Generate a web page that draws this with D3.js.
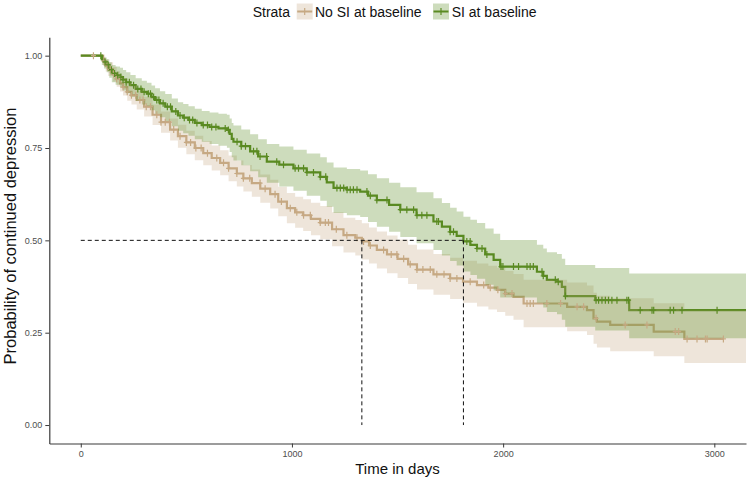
<!DOCTYPE html>
<html>
<head>
<meta charset="utf-8">
<script src="https://cdn.jsdelivr.net/npm/d3@7"></script>
<style>
  html, body { margin: 0; padding: 0; background: #fff; }
  svg { display: block; font-family: "Liberation Sans", Arial, Helvetica, sans-serif; }
</style>
</head>
<body>
<svg id="chart" width="750" height="480"></svg>
<script>
// ---------------- DATA ----------------
const strataLabels = ["No SI at baseline", "SI at baseline"];
const xTicks = [0, 1000, 2000, 3000];
const yTicks = [0, 0.25, 0.5, 0.75, 1];
const medianTimes = [1331, 1812];

// SI at baseline (green)
const siTime  = [0, 91, 100, 110, 123, 135, 147, 165, 186, 200, 215, 235, 260, 289, 313, 335, 352, 375, 400, 431, 460, 485, 510, 540, 573, 610, 652, 692, 705, 715, 723, 760, 802, 840, 881, 940, 1007, 1070, 1134, 1165, 1197, 1260, 1323, 1360, 1402, 1460, 1513, 1590, 1670, 1710, 1749, 1780, 1812, 1845, 1876, 1915, 1955, 1986, 2160, 2190, 2207, 2255, 2278, 2294, 2436, 2597, 3150];
const siSurv  = [1, 1, 0.99, 0.983, 0.975, 0.962, 0.952, 0.947, 0.942, 0.935, 0.928, 0.92, 0.91, 0.902, 0.897, 0.888, 0.88, 0.871, 0.862, 0.849, 0.838, 0.832, 0.826, 0.818, 0.812, 0.807, 0.803, 0.799, 0.788, 0.775, 0.767, 0.755, 0.741, 0.727, 0.713, 0.705, 0.695, 0.684, 0.672, 0.657, 0.642, 0.637, 0.632, 0.621, 0.609, 0.596, 0.583, 0.568, 0.551, 0.537, 0.523, 0.512, 0.497, 0.488, 0.478, 0.462, 0.447, 0.429, 0.415, 0.404, 0.393, 0.388, 0.374, 0.349, 0.338, 0.311, 0.311];
const siUpper = [1, 1, 1, 0.995, 0.99, 0.982, 0.975, 0.971, 0.967, 0.961, 0.955, 0.948, 0.939, 0.932, 0.927, 0.919, 0.912, 0.904, 0.896, 0.884, 0.874, 0.869, 0.863, 0.856, 0.85, 0.846, 0.843, 0.84, 0.83, 0.818, 0.811, 0.8, 0.787, 0.774, 0.761, 0.754, 0.745, 0.735, 0.725, 0.711, 0.697, 0.693, 0.689, 0.679, 0.668, 0.656, 0.644, 0.63, 0.614, 0.601, 0.588, 0.578, 0.564, 0.556, 0.547, 0.532, 0.518, 0.501, 0.488, 0.478, 0.468, 0.463, 0.45, 0.433, 0.425, 0.41, 0.41];
const siLower = [1, 1, 0.975, 0.965, 0.955, 0.94, 0.928, 0.921, 0.914, 0.906, 0.898, 0.889, 0.877, 0.868, 0.862, 0.852, 0.843, 0.833, 0.823, 0.809, 0.797, 0.79, 0.783, 0.774, 0.767, 0.761, 0.756, 0.751, 0.739, 0.725, 0.716, 0.703, 0.687, 0.671, 0.656, 0.646, 0.634, 0.621, 0.607, 0.591, 0.574, 0.568, 0.563, 0.55, 0.537, 0.523, 0.509, 0.492, 0.474, 0.459, 0.444, 0.432, 0.416, 0.406, 0.396, 0.38, 0.364, 0.345, 0.331, 0.318, 0.306, 0.3, 0.285, 0.266, 0.256, 0.235, 0.235];
const siCensor = [95, 115, 130, 145, 160, 175, 190, 200, 215, 230, 250, 270, 285, 300, 320, 330, 345, 360, 370, 390, 410, 425, 450, 470, 490, 515, 530, 550, 580, 600, 620, 640, 684, 699, 740, 760, 780, 818, 834, 849, 880, 928, 960, 1015, 1031, 1055, 1071, 1102, 1134, 1160, 1213, 1229, 1245, 1261, 1276, 1291, 1308, 1355, 1371, 1402, 1450, 1513, 1544, 1576, 1592, 1615, 1639, 1686, 1694, 1749, 1765, 1828, 1844, 1876, 1900, 1923, 1990, 1999, 2049, 2073, 2113, 2128, 2143, 2184, 2190, 2247, 2261, 2295, 2440, 2452, 2468, 2484, 2499, 2515, 2539, 2586, 2594, 2649, 2705, 2713, 2791, 2807, 2847, 3013];
const siLineEnd = 3150;

// No SI at baseline (tan)
const noSiTime  = [0, 95, 106, 118, 130, 153, 170, 186, 200, 220, 240, 265, 300, 340, 380, 423, 460, 500, 540, 580, 620, 660, 700, 739, 770, 810, 850, 897, 935, 976, 1015, 1053, 1090, 1134, 1190, 1244, 1300, 1331, 1365, 1402, 1450, 1500, 1550, 1592, 1670, 1749, 1810, 1876, 1930, 1971, 2010, 2049, 2097, 2303, 2397, 2428, 2444, 2507, 2713, 2858, 3150];
const noSiSurv  = [1, 1, 0.985, 0.973, 0.963, 0.95, 0.937, 0.925, 0.915, 0.902, 0.893, 0.88, 0.862, 0.84, 0.82, 0.8, 0.782, 0.765, 0.75, 0.736, 0.723, 0.71, 0.695, 0.681, 0.668, 0.655, 0.64, 0.625, 0.605, 0.587, 0.576, 0.568, 0.558, 0.548, 0.53, 0.514, 0.507, 0.497, 0.486, 0.474, 0.462, 0.45, 0.435, 0.421, 0.408, 0.397, 0.388, 0.379, 0.372, 0.366, 0.356, 0.347, 0.329, 0.32, 0.311, 0.289, 0.28, 0.271, 0.253, 0.233, 0.233];
const noSiUpper = [1, 1, 0.997, 0.99, 0.982, 0.97, 0.958, 0.947, 0.938, 0.926, 0.918, 0.906, 0.889, 0.868, 0.849, 0.83, 0.813, 0.797, 0.783, 0.769, 0.757, 0.744, 0.73, 0.716, 0.704, 0.692, 0.678, 0.664, 0.645, 0.628, 0.618, 0.611, 0.602, 0.593, 0.576, 0.561, 0.555, 0.546, 0.535, 0.524, 0.513, 0.502, 0.488, 0.475, 0.463, 0.453, 0.445, 0.437, 0.431, 0.426, 0.417, 0.409, 0.393, 0.386, 0.378, 0.358, 0.35, 0.343, 0.33, 0.31, 0.31];
const noSiLower = [1, 1, 0.972, 0.957, 0.945, 0.93, 0.916, 0.903, 0.892, 0.878, 0.868, 0.854, 0.835, 0.812, 0.791, 0.77, 0.751, 0.733, 0.717, 0.703, 0.689, 0.676, 0.66, 0.646, 0.632, 0.618, 0.602, 0.586, 0.565, 0.546, 0.534, 0.525, 0.514, 0.503, 0.484, 0.467, 0.459, 0.448, 0.437, 0.424, 0.411, 0.398, 0.382, 0.367, 0.353, 0.341, 0.331, 0.321, 0.313, 0.306, 0.296, 0.285, 0.265, 0.254, 0.244, 0.22, 0.21, 0.2, 0.186, 0.168, 0.168];
const noSiCensor = [60, 110, 125, 140, 155, 170, 185, 200, 220, 240, 260, 280, 295, 310, 330, 360, 380, 400, 420, 440, 470, 500, 520, 545, 570, 600, 644, 676, 700, 739, 770, 800, 849, 873, 920, 950, 992, 1023, 1055, 1087, 1134, 1158, 1173, 1210, 1260, 1308, 1339, 1371, 1434, 1470, 1497, 1529, 1560, 1592, 1620, 1655, 1686, 1720, 1749, 1781, 1844, 1908, 1939, 1975, 2010, 2042, 2113, 2128, 2143, 2207, 2272, 2350, 2381, 2440, 2578, 2681, 2815, 2831, 2871, 2918, 2958, 2966, 3043];
const noSiLineEnd = 3043;

// ---------------- STYLE ----------------
const colTan = "#c6a983";
const colGreen = "#5a8a22";
const fontFam = '"Liberation Sans", Arial, Helvetica, sans-serif';

// ---------------- SCALES ----------------
const svg = d3.select("#chart");
const panel = { left: 49.3, right: 746, top: 37.2, bottom: 443.5 };
const x = d3.scaleLinear().domain([-149, 3150]).range([panel.left, panel.right]);
const y = d3.scaleLinear().domain([-0.05, 1.05]).range([panel.bottom, panel.top]);

svg.append("defs").append("clipPath").attr("id", "clip")
  .append("rect").attr("x", panel.left).attr("y", panel.top - 5)
  .attr("width", panel.right - panel.left).attr("height", panel.bottom - panel.top + 5);

function buildSeries(time, surv, upper, lower) {
  return time.map((t, i) => ({ t, s: surv[i], u: upper[i], l: lower[i] }));
}
const groups = [
  { name: strataLabels[0], color: colTan, data: buildSeries(noSiTime, noSiSurv, noSiUpper, noSiLower), censor: noSiCensor, lineEnd: noSiLineEnd, times: noSiTime, surv: noSiSurv },
  { name: strataLabels[1], color: colGreen, data: buildSeries(siTime, siSurv, siUpper, siLower), censor: siCensor, lineEnd: siLineEnd, times: siTime, surv: siSurv }
];

const plot = svg.append("g").attr("clip-path", "url(#clip)");

const lineGen = d3.line().x(d => x(d.t)).y(d => y(d.s)).curve(d3.curveStepAfter);
const areaGen = d3.area().x(d => x(d.t)).y0(d => y(d.l)).y1(d => y(d.u)).curve(d3.curveStepAfter);

// lines first
groups.forEach(g => {
  const pts = g.data.filter(d => d.t <= g.lineEnd);
  const last = pts[pts.length - 1];
  if (last.t < g.lineEnd) pts.push({ t: g.lineEnd, s: last.s });
  plot.append("path").attr("d", lineGen(pts))
    .attr("fill", "none").attr("stroke", g.color).attr("stroke-width", 2.2);
});
// ribbons
groups.forEach(g => {
  plot.append("path").attr("d", areaGen(g.data))
    .attr("fill", g.color).attr("fill-opacity", 0.3).attr("stroke", "none");
});
// censor marks
groups.forEach(g => {
  const cg = plot.append("g").attr("stroke", g.color).attr("stroke-width", 1.2);
  g.censor.forEach(t => {
    const i = Math.max(0, d3.bisectRight(g.times, t) - 1);
    const cx = x(t), cy = y(g.surv[i]);
    cg.append("line").attr("x1", cx).attr("x2", cx).attr("y1", cy - 3.5).attr("y2", cy + 3.5);
    cg.append("line").attr("x1", cx - 2.5).attr("x2", cx + 2.5).attr("y1", cy).attr("y2", cy);
  });
});

// median dashed lines
const med = svg.append("g").attr("stroke", "#111").attr("stroke-width", 1).attr("stroke-dasharray", "4,3").attr("fill", "none");
med.append("line").attr("x1", x(0)).attr("x2", x(d3.max(medianTimes))).attr("y1", y(0.5)).attr("y2", y(0.5));
medianTimes.forEach(t => {
  med.append("line").attr("x1", x(t)).attr("x2", x(t)).attr("y1", y(0.5)).attr("y2", y(0));
});

// ---------------- AXES ----------------
const yAxis = d3.axisLeft(y).tickValues(yTicks).tickFormat(d3.format(".2f")).tickSize(4).tickSizeOuter(0).tickPadding(3);
const xAxis = d3.axisBottom(x).tickValues(xTicks).tickFormat(d => d).tickSize(4).tickSizeOuter(0).tickPadding(3);

const gy = svg.append("g").attr("transform", `translate(${panel.left},0)`).call(yAxis);
const gx = svg.append("g").attr("transform", `translate(0,${panel.bottom})`).call(xAxis);
[gx, gy].forEach(g => {
  g.select(".domain").attr("stroke", "#3a3a3a").attr("stroke-width", 1.2);
  g.selectAll(".tick line").attr("stroke", "#3a3a3a").attr("stroke-width", 1);
  g.selectAll(".tick text").attr("fill", "#4d4d4d").style("font-size", "9px").style("font-family", fontFam);
});

// axis titles
svg.append("text").attr("x", 397.5).attr("y", 474).attr("text-anchor", "middle")
  .style("font-size", "15px").style("font-family", fontFam).attr("fill", "#111").text("Time in days");
svg.append("text").attr("transform", "translate(16,236) rotate(-90)").attr("text-anchor", "middle")
  .style("font-size", "16.5px").style("font-family", fontFam).attr("fill", "#111").text("Probability of continued depression");

// ---------------- LEGEND ----------------
const leg = svg.append("g").style("font-family", fontFam).style("font-size", "14px");
leg.append("text").attr("x", 252.7).attr("y", 16.5).attr("fill", "#111").text("Strata");
const legItems = [
  { label: strataLabels[0], color: colTan, kx: 296.7, tx: 315 },
  { label: strataLabels[1], color: colGreen, kx: 433, tx: 451.7 }
];
legItems.forEach(it => {
  leg.append("rect").attr("x", it.kx).attr("y", 3.5).attr("width", 16).attr("height", 16)
    .attr("fill", it.color).attr("fill-opacity", 0.3);
  leg.append("line").attr("x1", it.kx + 0.5).attr("x2", it.kx + 15.5).attr("y1", 11.5).attr("y2", 11.5)
    .attr("stroke", it.color).attr("stroke-width", 2);
  leg.append("line").attr("x1", it.kx + 8).attr("x2", it.kx + 8).attr("y1", 8).attr("y2", 15)
    .attr("stroke", it.color).attr("stroke-width", 1.2);
  leg.append("text").attr("x", it.tx).attr("y", 16.5).attr("fill", "#111").text(it.label);
});
</script>
</body>
</html>
